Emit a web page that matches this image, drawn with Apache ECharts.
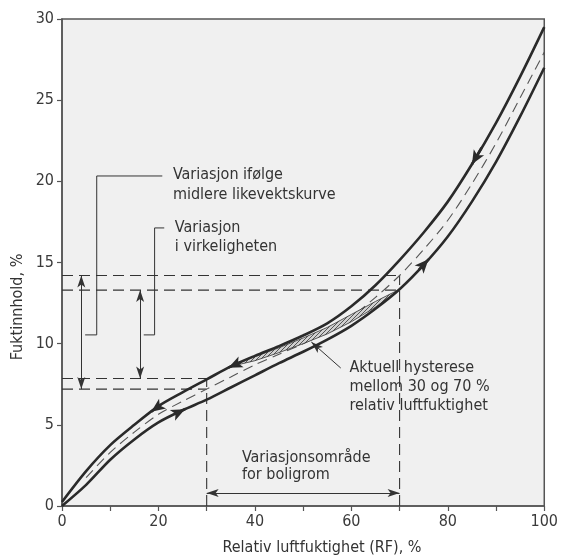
<!DOCTYPE html>
<html>
<head>
<meta charset="utf-8">
<script src="https://cdn.jsdelivr.net/npm/echarts@6/dist/echarts.min.js"></script>
<style>
  html, body { margin: 0; padding: 0; background: #fff; }
  #chart { width: 561px; height: 558px; }
</style>
</head>
<body>
<div id="chart"></div>
<script>
  // relativ luftfuktighet, %
  const rhX = [0, 5, 10, 15, 20, 25, 30, 35, 40, 45, 50, 55, 60, 65, 70, 75, 80, 85, 90, 95, 100];
  // fuktinnhold, %
  const desorption = [0.25, 2.15, 3.75, 5.0, 6.15, 7.0, 7.8, 8.6, 9.25, 9.85, 10.5, 11.25, 12.3, 13.6, 15.15, 16.85, 18.75, 21.05, 23.6, 26.45, 29.5];
  const absorption = [0, 1.3, 2.85, 4.1, 5.15, 5.9, 6.55, 7.3, 8.05, 8.8, 9.5, 10.25, 11.1, 12.15, 13.35, 14.85, 16.6, 18.75, 21.2, 24.0, 27.0];
  const meanCurve = [null, 1.75, 3.3, 4.55, 5.65, 6.45, 7.2, 7.95, 8.7, 9.35, 10.0, 10.75, 11.65, 12.85, 14.2, 15.8, 17.6, 19.85, 22.35, 25.15, 27.95];

  // aktuell hysterese mellom 30 og 70 %
  const loopX = [35, 40, 45, 50, 55, 60, 65, 70];
  const loopTop = [8.6, 9.2, 9.75, 10.35, 11.0, 11.8, 12.6, 13.35];
  const loopBottom = [8.6, 8.95, 9.45, 10.0, 10.6, 11.35, 12.25, 13.35];

  // hjelpelinjer
  const levelMeanHigh = 14.2;
  const levelRealHigh = 13.3;
  const levelRealLow = 7.85;
  const levelMeanLow = 7.2;
  const rhLow = 30;
  const rhHigh = 70;

  const xTicks = [0, 20, 40, 60, 80, 100];
  const yTicks = [0, 5, 10, 15, 20, 25, 30];

  const FONT = 'DejaVu Sans Condensed, Liberation Sans Narrow, sans-serif';
  const INK = '#2a2a2a';

  const interp = (ys, x) => {
    for (let i = 0; i < rhX.length - 1; i++) {
      if (x >= rhX[i] && x <= rhX[i + 1] && ys[i] != null) {
        const t = (x - rhX[i]) / (rhX[i + 1] - rhX[i]);
        return ys[i] + t * (ys[i + 1] - ys[i]);
      }
    }
    return ys[ys.length - 1];
  };
  const pair = (ys, from, to) => [{coord: [from, interp(ys, from)]}, {coord: [to, interp(ys, to)]}];
  const pts = (xs, ys) => xs.map((x, i) => [x, ys[i]]);

  // skravur for hysteresesløyfen
  const hatch = document.createElement('canvas');
  hatch.width = 4; hatch.height = 4;
  const hctx = hatch.getContext('2d');
  hctx.fillStyle = '#d0d0d0';
  hctx.fillRect(0, 0, 4, 4);
  hctx.strokeStyle = '#555';
  hctx.lineWidth = 1;
  hctx.beginPath(); hctx.moveTo(0, 4); hctx.lineTo(4, 0); hctx.stroke();

  const dashed = {color: '#333', width: 1.1, type: [11, 6]};
  const thin = {color: '#333', width: 1, type: 'solid'};

  const refLine = (data) => ({
    type: 'line', data: data, symbol: 'none', silent: true,
    lineStyle: dashed, z: 2
  });
  const solidLine = (data) => ({
    type: 'line', data: data, symbol: 'none', silent: true,
    lineStyle: thin, z: 2
  });

  const chart = echarts.init(document.getElementById('chart'));

  const options = {
    animation: false,
    grid: {
      left: 62, right: 6, top: 19, bottom: 52,
      show: true, backgroundColor: '#f0f0f0', borderColor: '#555', borderWidth: 1.5
    },
    xAxis: {
      type: 'value', min: 0, max: 100, interval: 10,
      axisLine: {show: true, lineStyle: {color: '#555', width: 1.5}},
      axisTick: {show: true, length: 5, lineStyle: {color: '#555', width: 1.2}},
      splitLine: {show: false},
      axisLabel: {
        color: '#3a3a3a', fontFamily: FONT, fontSize: 16, margin: 8,
        formatter: (v) => xTicks.includes(v) ? String(v) : ''
      }
    },
    yAxis: {
      type: 'value', min: 0, max: 30, interval: 5,
      axisLine: {show: true, lineStyle: {color: '#555', width: 1.5}},
      axisTick: {show: true, length: 5, lineStyle: {color: '#555', width: 1.2}},
      splitLine: {show: false},
      axisLabel: {
        color: '#3a3a3a', fontFamily: FONT, fontSize: 16, margin: 8,
        formatter: (v) => yTicks.includes(v) ? String(v) : ''
      }
    },
    series: [
      // hjelpelinjer
      refLine([[0, levelMeanHigh], [rhHigh, levelMeanHigh]]),
      refLine([[0, levelRealHigh], [rhHigh, levelRealHigh]]),
      refLine([[0, levelRealLow], [rhLow, levelRealLow]]),
      refLine([[0, levelMeanLow], [rhLow, levelMeanLow]]),
      refLine([[rhLow, 0], [rhLow, levelRealLow]]),
      refLine([[rhHigh, 0], [rhHigh, levelMeanHigh]]),
      // klammer til tekstene
      solidLine([[20.8, 20.33], [7.2, 20.33], [7.2, 10.54], [4.8, 10.54]]),
      solidLine([[21.2, 17.13], [19.2, 17.13], [19.2, 10.54], [16.95, 10.54]]),
      {
        type: 'line', data: pts(rhX, meanCurve), symbol: 'none', smooth: 0.3,
        silent: true, lineStyle: {color: '#555', width: 1.1, type: [10, 6]}, z: 3
      },
      {
        type: 'custom', silent: true, z: 4,
        data: [[50, 10]],
        renderItem: (params, api) => {
          const poly = loopX.map((x, i) => api.coord([x, loopTop[i]]));
          for (let i = loopX.length - 1; i >= 0; i--) poly.push(api.coord([loopX[i], loopBottom[i]]));
          return {
            type: 'polygon',
            shape: {points: poly},
            style: {fill: {image: hatch, repeat: 'repeat'}, stroke: '#333', lineWidth: 0.8}
          };
        }
      },
      {
        type: 'line', data: pts(rhX, desorption), symbol: 'none', smooth: 0.3,
        silent: true, lineStyle: {color: INK, width: 2.6}, z: 5,
        markLine: {
          silent: true, symbol: ['none', 'arrow'], symbolSize: [9, 14],
          label: {show: false}, lineStyle: {color: INK, width: 2.6, type: 'solid'},
          data: [pair(desorption, 20.5, 18.5), pair(desorption, 87, 85), pair(desorption, 37, 34.5)]
        }
      },
      {
        type: 'line', data: pts(rhX, absorption), symbol: 'none', smooth: 0.3,
        silent: true, lineStyle: {color: INK, width: 2.6}, z: 5,
        markLine: {
          silent: true, symbol: ['none', 'arrow'], symbolSize: [9, 14],
          label: {show: false}, lineStyle: {color: INK, width: 2.6, type: 'solid'},
          data: [pair(absorption, 23.5, 25.5), pair(absorption, 74, 76)]
        }
      },
      // doble piler og henvisningslinje
      {
        type: 'line', data: [], silent: true,
        markLine: {
          silent: true, symbol: ['arrow', 'arrow'], symbolSize: [6, 12],
          label: {show: false}, lineStyle: {color: '#333', width: 1, type: 'solid'},
          data: [
            [{coord: [4, levelMeanLow]}, {coord: [4, levelMeanHigh]}],
            [{coord: [16.2, levelRealLow]}, {coord: [16.2, levelRealHigh]}],
            [{coord: [rhLow, 0.8]}, {coord: [rhHigh, 0.8]}],
            [{coord: [57.8, 8.5], symbol: 'none'}, {coord: [51.7, 10.1]}]
          ]
        }
      }
    ],
    graphic: []
  };
  chart.setOption(options);

  // tekster i dataposisjoner
  const notes = [
    {x: 23.0, y: 20.4, text: 'Variasjon ifølge'},
    {x: 23.0, y: 19.15, text: 'midlere likevektskurve'},
    {x: 23.4, y: 17.15, text: 'Variasjon'},
    {x: 23.4, y: 15.95, text: 'i virkeligheten'},
    {x: 59.6, y: 8.5, text: 'Aktuell hysterese'},
    {x: 59.6, y: 7.33, text: 'mellom 30 og 70 %'},
    {x: 59.6, y: 6.16, text: 'relativ luftfuktighet'},
    {x: 37.3, y: 2.96, text: 'Variasjonsområde'},
    {x: 37.3, y: 1.9, text: 'for boligrom'}
  ];
  const graphic = notes.map((n) => {
    const p = chart.convertToPixel({gridIndex: 0}, [n.x, n.y]);
    return {
      type: 'text', x: p[0], y: p[1], silent: true, z: 10,
      style: {text: n.text, fill: '#333', font: '16px ' + FONT, textAlign: 'left', textVerticalAlign: 'middle'}
    };
  });
  graphic.push({
    type: 'text', x: 322, y: 548, silent: true,
    style: {text: 'Relativ luftfuktighet (RF), %', fill: '#333', font: '16px ' + FONT, textAlign: 'center', textVerticalAlign: 'middle'}
  });
  graphic.push({
    type: 'text', x: 18, y: 307, rotation: Math.PI / 2, silent: true,
    style: {text: 'Fuktinnhold, %', fill: '#333', font: '16px ' + FONT, textAlign: 'center', textVerticalAlign: 'middle'}
  });
  chart.setOption({graphic: graphic});
</script>
</body>
</html>
